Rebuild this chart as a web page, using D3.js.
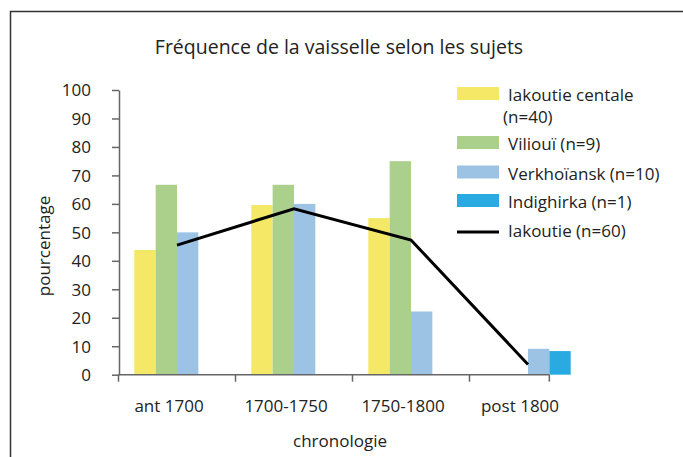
<!DOCTYPE html>
<html>
<head>
<meta charset="utf-8">
<script src="https://cdn.jsdelivr.net/npm/d3@7/dist/d3.min.js"></script>
<style>
  html, body { margin: 0; padding: 0; background: #fff; }
  svg { display: block; }
  text { font-family: "Open Sans", "Noto Sans", sans-serif; fill: #222; }
</style>
</head>
<body>
<svg id="chart" width="683" height="457"></svg>
<script>
// Periods on the x axis
const periods = ["ant 1700", "1700-1750", "1750-1800", "post 1800"];

// Bar series (percentages per period)
const seriesNames = ["Iakoutie centale (n=40)", "Viliouï (n=9)", "Verkhoïansk (n=10)", "Indighirka (n=1)"];
const iakoutieCentale = [43.8, 59.6, 55.0, 0];
const vilioui = [66.7, 66.7, 75.0, 0];
const verkhoiansk = [50.0, 60.0, 22.2, 9.1];
const indighirka = [0, 0, 0, 8.3];

// Line series: whole Iakoutie
const lineName = "Iakoutie (n=60)";
const iakoutie = [45.5, 58.3, 47.3, 3.6];

// Y axis ticks
const yTicks = [0, 10, 20, 30, 40, 50, 60, 70, 80, 90, 100];

const colors = ["#f5e866", "#abd08c", "#9dc3e4", "#29abe2"];
const barValues = [iakoutieCentale, vilioui, verkhoiansk, indighirka];
const FS = "17px";

const svg = d3.select("#chart");

// Outer frame (top and left edges)
svg.append("path")
  .attr("d", "M10.5,457 L10.5,11.5 L683,11.5")
  .attr("fill", "none").attr("stroke", "#333").attr("stroke-width", 1.5);

const y = d3.scaleLinear().domain([0, 100]).range([374.7, 90]);
const x = d3.scaleBand().domain(periods).range([118.5, 586.5]);
const x1 = d3.scaleBand().domain(seriesNames).range([0, x.bandwidth()]).paddingInner(0).paddingOuter(0.74);

// Title
svg.append("text")
  .attr("x", 339).attr("y", 54)
  .attr("text-anchor", "middle")
  .style("font-size", "19.5px")
  .text("Fréquence de la vaisselle selon les sujets");

// Bars
const rows = periods.map((p, i) => ({ period: p, values: seriesNames.map((s, j) => ({ s, j, v: barValues[j][i] })) }));
const g = svg.append("g");
g.selectAll("g.grp").data(rows).join("g")
  .attr("class", "grp")
  .attr("transform", d => `translate(${x(d.period)},0)`)
  .selectAll("rect").data(d => d.values.filter(e => e.v > 0)).join("rect")
  .attr("x", d => x1(d.s))
  .attr("width", x1.bandwidth())
  .attr("y", d => y(d.v))
  .attr("height", d => y(0) - y(d.v))
  .attr("fill", d => colors[d.j]);

// Y axis
const yAxis = svg.append("g")
  .attr("transform", "translate(119,0)")
  .call(d3.axisLeft(y).tickValues(yTicks).tickSize(7).tickSizeOuter(0));
yAxis.select(".domain").attr("stroke", "#666").attr("stroke-width", 1.5);
yAxis.selectAll(".tick line").attr("stroke", "#666").attr("stroke-width", 1.5);
yAxis.selectAll(".tick text").attr("dy", "0.35em")
  .style("font-size", FS).style("font-family", "'Open Sans', 'Noto Sans', sans-serif").attr("fill", "#222")
  .attr("x", -28).attr("text-anchor", "end");

// X axis: the visible line stops at the right edge of the last Verkhoïansk bar
const xEnd = x(periods[3]) + x1(seriesNames[2]) + x1.bandwidth();
const xTickPos = periods.map(p => x(p)).concat([xEnd]);
const xg = svg.append("g");
xg.append("line")
  .attr("x1", x.range()[0]).attr("x2", xEnd)
  .attr("y1", y(0)).attr("y2", y(0))
  .attr("stroke", "#666").attr("stroke-width", 1.5);
xg.selectAll("line.tk").data(xTickPos).join("line")
  .attr("class", "tk")
  .attr("x1", d => d).attr("x2", d => d)
  .attr("y1", y(0)).attr("y2", y(0) + 7)
  .attr("stroke", "#666").attr("stroke-width", 1.5);
xg.selectAll("text").data(periods).join("text")
  .attr("x", d => x(d) + x.bandwidth() / 2 - 8)
  .attr("y", 412)
  .attr("text-anchor", "middle")
  .style("font-size", FS)
  .text(d => d);

// Axis titles
svg.append("text")
  .attr("x", 340).attr("y", 447)
  .attr("text-anchor", "middle")
  .style("font-size", FS)
  .text("chronologie");
svg.append("text")
  .attr("transform", "translate(50,246) rotate(-90)")
  .attr("text-anchor", "middle")
  .style("font-size", FS)
  .text("pourcentage");

// Line
const line = d3.line()
  .x((d, i) => x(periods[i]) + x.bandwidth() / 2)
  .y(d => y(d));
svg.append("path")
  .datum(iakoutie)
  .attr("d", line)
  .attr("fill", "none")
  .attr("stroke", "#000")
  .attr("stroke-width", 3);

// Legend
const legend = svg.append("g");
const legRows = [
  { label: ["Iakoutie centale", "(n=40)"], color: colors[0], ty: 101 },
  { label: ["Viliouï (n=9)"], color: colors[1], ty: 150 },
  { label: ["Verkhoïansk (n=10)"], color: colors[2], ty: 179.5 },
  { label: ["Indighirka (n=1)"], color: colors[3], ty: 208 }
];
legRows.forEach(r => {
  legend.append("rect")
    .attr("x", 457).attr("y", r.ty - 14).attr("width", 42).attr("height", 13)
    .attr("fill", r.color);
  legend.append("text").attr("x", 508).attr("y", r.ty).style("font-size", FS).text(r.label[0]);
  if (r.label[1]) legend.append("text").attr("x", 503).attr("y", r.ty + 22).style("font-size", FS).text(r.label[1]);
});
legend.append("line")
  .attr("x1", 457).attr("x2", 499).attr("y1", 232).attr("y2", 232)
  .attr("stroke", "#000").attr("stroke-width", 3);
legend.append("text").attr("x", 508).attr("y", 237).style("font-size", FS).text(lineName);
</script>
</body>
</html>
